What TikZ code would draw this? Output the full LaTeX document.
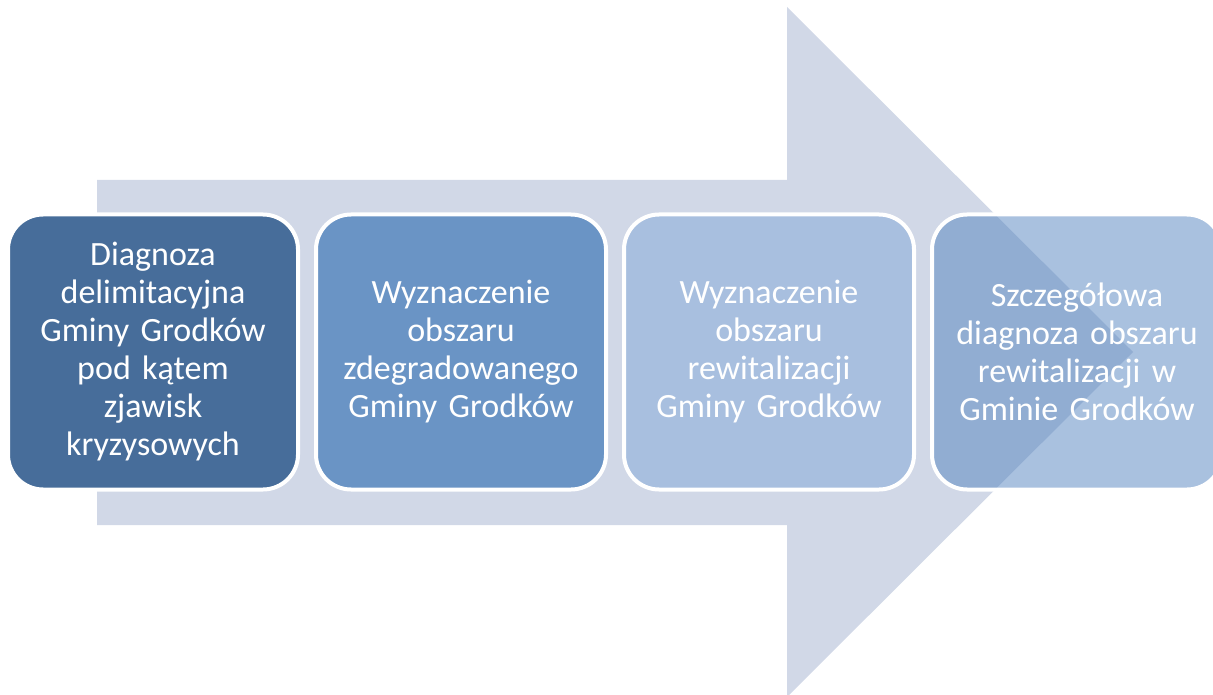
\documentclass[tikz,border=0pt]{standalone}
\usepackage{fontspec}
\setmainfont{Carlito}
\definecolor{arrowfill}{HTML}{D1D8E7}
\definecolor{stepone}{HTML}{476D9A}
\definecolor{steptwo}{HTML}{6A94C5}
\definecolor{stepthree}{HTML}{A8BFDF}
\definecolor{stepfour}{HTML}{5383BF}
\begin{document}
\begin{tikzpicture}[x=1pt,y=-1pt]

      \useasboundingbox (0,0) rectangle (1213,695);
      \clip (0,0) rectangle (1213,695);

      % big arrow behind the steps
      \fill[arrowfill] (97,180) -- (787,180) -- (787,7) -- (1133,352)
        -- (787,697) -- (787,525) -- (97,525) -- cycle;

      \begin{scope}[every node/.style={rectangle, rounded corners=35pt, draw=white,
          line width=4pt, minimum width=290pt, minimum height=275pt, inner sep=0pt,
          text width=284pt, align=center, text=white,
          font=\fontsize{34}{38}\selectfont}]
        \node[fill=stepone]   (1) at (153,352)  {Diagnoza\\delimitacyjna\\Gminy Grodków\\pod kątem\\zjawisk\\kryzysowych};
        \node[fill=steptwo]   (2) at (461,352)  {Wyznaczenie\\obszaru\\zdegradowanego\\Gminy Grodków};
        \node[fill=stepthree] (3) at (769,352)  {Wyznaczenie\\obszaru\\rewitalizacji\\Gminy Grodków};
        \node[fill=stepfour, fill opacity=0.5, text opacity=1]
                              (4) at (1077,352) {Szczegółowa\\diagnoza obszaru\\rewitalizacji w\\Gminie Grodków};
      \end{scope}

    \end{tikzpicture}
\end{document}
